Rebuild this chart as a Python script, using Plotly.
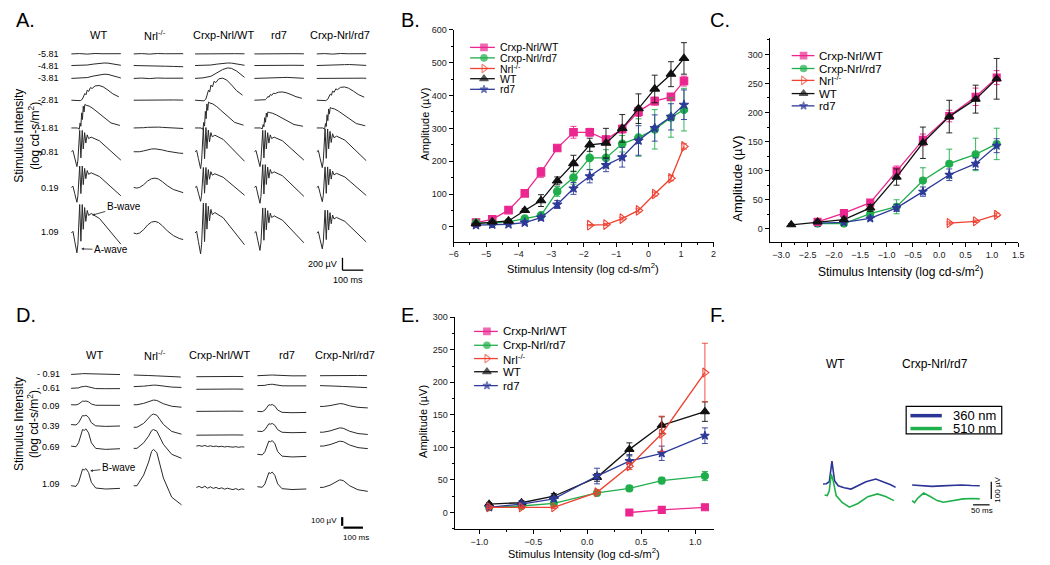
import plotly.graph_objects as go

W, H = 1050, 565          # browser window
OFF = 8                   # default page margin around the plot div
FW, FH = W - OFF, H - OFF # figure size so that it ends at the window edge
FONT = "Arial, Liberation Sans, sans-serif"

# ---------------- data: panel B ----------------
B_X = [-5.31, -4.81, -4.31, -3.81, -3.31, -2.81, -2.31, -1.81, -1.31, -0.81, -0.31, 0.19, 0.69, 1.09]
B_CWT = [13, 23, 51, 102, 166, 240, 288, 288, 266, 298, 351, 383, 396, 444]
B_CWT_ERR = [3, 4, 5, 6, 15, 8, 18, 12, 10, 12, 15, 12, 10, 15]
B_CRD7 = [12, 12, 15, 25, 35, 108, 150, 210, 210, 253, 272, 297, 333, 357]
B_CRD7_ERR = [3, 3, 4, 5, 6, 15, 20, 35, 25, 25, 57, 60, 60, 65]
B_NRL_X = [-1.81, -1.31, -0.81, -0.31, 0.19, 0.69, 1.09]
B_NRL = [5, 7, 25, 50, 100, 148, 245]
B_NRL_ERR = [2, 3, 4, 5, 6, 8, 8]
B_WT = [10, 15, 18, 50, 80, 140, 193, 250, 255, 300, 360, 420, 465, 513]
B_WT_ERR = [3, 4, 4, 6, 18, 12, 25, 20, 45, 42, 45, 42, 38, 48]
B_RD7 = [5, 7, 8, 13, 28, 68, 117, 154, 188, 212, 263, 301, 335, 372]
B_RD7_ERR = [3, 3, 3, 5, 8, 12, 18, 20, 20, 30, 45, 40, 40, 45]

# ---------------- data: panel C ----------------
C_WT_X = [-2.81, -2.31, -1.81, -1.31, -0.81, -0.31, 0.19, 0.69, 1.09]
C_WT = [7, 12, 16, 36, 89, 148, 193, 223, 258]
C_WT_ERR = [2, 3, 4, 6, 14, 27, 28, 24, 35]
C_X = [-2.31, -1.81, -1.31, -0.81, -0.31, 0.19, 0.69, 1.09]
C_CWT = [12, 27, 45, 100, 153, 194, 227, 260]
C_CWT_ERR = [3, 4, 5, 8, 10, 10, 15, 12]
C_CRD7 = [9, 9, 26, 38, 83, 112, 128, 146]
C_CRD7_ERR = [3, 3, 5, 12, 22, 25, 28, 27]
C_RD7 = [10, 11, 18, 36, 64, 93, 112, 143]
C_RD7_ERR = [3, 3, 4, 6, 8, 10, 10, 12]
C_NRL_X = [0.19, 0.69, 1.09]
C_NRL = [10, 13, 24]
C_NRL_ERR = [2, 2, 3]

# ---------------- data: panel E ----------------
E_X = [-0.91, -0.61, -0.31, 0.09, 0.39, 0.69, 1.09]
E_WT = [13, 15, 25, 54, 97, 134, 155]
E_WT_ERR = [2, 3, 4, 6, 10, 13, 15]
E_RD7 = [8, 13, 21, 56, 79, 91, 118]
E_RD7_ERR = [2, 3, 4, 12, 10, 11, 12]
E_CRD7 = [8, 10, 14, 30, 37, 49, 56]
E_CRD7_ERR = [2, 2, 3, 4, 4, 5, 7]
E_NRL = [8, 8, 8, 31, 71, 121, 215]
E_NRL_ERR = [2, 2, 2, 3, 5, 27, 45]
E_CWT_X = [0.39, 0.69, 1.09]
E_CWT = [0, 4, 8]
E_CWT_ERR = [1, 2, 2]

LEGEND_NAMES = ["Crxp-Nrl/WT", "Crxp-Nrl/rd7", "Nrl<sup>-/-</sup>", "WT", "rd7"]

FLAT_T = [0, 40, 80, 120, 160, 200, 250]
FLAT_V = [0, 4, -2, 5, 2, 6, 3]
DRIFT_V = [0, 0, -6, -10, -14, -18, -24]
NOISE_T = [0, 15, 30, 45, 60, 75, 90, 105, 120, 135, 150, 165, 180, 195, 210, 225, 240, 255]
NOISE_V = [0, 10, -5, 12, -8, 6, -10, 0, -14, -4, -18, -8, -16, -22, -12, -25, -15, -20]
AB_T = [0, 8, 17, 25, 28, 33, 38, 42, 48, 55, 60, 67, 73, 80, 87, 100, 142, 175, 207, 250]
AB_V = [0, 20, -98, -216, -236, -133, 138, 339, -98, 339, 44, 303, 138, 268, 209, 232, 173, 79, 0, -133]
B_T = [0, 30, 40, 44, 48, 52, 56, 60, 64, 68, 75, 90, 110, 140, 170, 200, 245]
B_V = [0, 0, -15, 60, 20, 180, 100, 260, 190, 280, 270, 260, 230, 170, 110, 60, 30]
BL_T = [0, 30, 45, 55, 62, 68, 74, 80, 88, 96, 105, 120, 140, 160, 185, 210, 240]
BL_V = [0, 0, -5, 10, 40, 80, 65, 120, 105, 150, 140, 170, 175, 160, 120, 75, 40]
SLOW_T = [0, 15, 30, 50, 70, 90, 108, 125, 145, 170, 200, 230, 250]
SLOW_V = [0, -10, 0, 40, 95, 130, 138, 125, 85, 25, -30, -65, -78]
LATE_T = [0, 40, 80, 110, 140, 165, 185, 210, 235, 250]
LATE_V = [0, 5, 20, 55, 85, 100, 95, 70, 30, 10]
PH_T = [0, 26, 40, 53, 61, 70, 79, 93, 108, 131, 184, 260]
PH_V = [0, -8, 40, 140, 200, 190, 208, 160, 40, -28, -40, -32]
NP_T = [0, 17, 53, 79, 95, 105, 123, 140, 158, 202, 254]
NP_V = [0, 0, 67, 148, 215, 228, 208, 130, 48, -72, -120]

TPL = {
    "flat": (FLAT_T, FLAT_V), "drift": (FLAT_T, DRIFT_V), "noise": (NOISE_T, NOISE_V),
    "ab": (AB_T, AB_V), "b": (B_T, B_V), "blate": (BL_T, BL_V), "slow": (SLOW_T, SLOW_V),
    "late": (LATE_T, LATE_V), "ph": (PH_T, PH_V), "np": (NP_T, NP_V),
}

A_COLS = ["WT", "Nrl<sup>-/-</sup>", "Crxp-Nrl/WT", "rd7", "Crxp-Nrl/rd7"]
A_ROWS = ["-5.81", "-4.81", "-3.81", "-2.81", "-1.81", "-0.81", "0.19", "1.09"]
# (shape, gain) per row, per column (WT, Nrl-/-, Crxp-Nrl/WT, rd7, Crxp-Nrl/rd7)
A_TRACES = [
    [("flat", 1), ("flat", 1), ("flat", 0.5), ("flat", 0.5), ("flat", 1)],
    [("late", 0.3), ("drift", 0.6), ("late", 0.3), ("flat", 0.5), ("late", 0.12)],
    [("late", 0.5), ("flat", 1), ("late", 1.25), ("late", 0.12), ("late", 0.1)],
    [("blate", 1.0), ("flat", 0.5), ("blate", 1.5), ("blate", 0.56), ("blate", 0.9)],
    [("b", 1.0), ("slow", 0.08), ("b", 1.1), ("b", 0.68), ("b", 0.87)],
    [("ab", 0.75), ("slow", 0.25), ("ab", 0.85), ("ab", 0.75), ("ab", 0.8)],
    [("ab", 0.75), ("slow", 0.8), ("ab", 0.7), ("ab", 0.8), ("ab", 0.72)],
    [("ab", 1.0), ("slow", 1.0), ("ab", 1.05), ("ab", 0.88), ("ab", 0.8)],
]

D_COLS = ["WT", "Nrl<sup>-/-</sup>", "Crxp-Nrl/WT", "rd7", "Crxp-Nrl/rd7"]
D_ROWS = ["- 0.91", "- 0.61", "0.09", "0.39", "0.69", "1.09"]
# per column: (shape, gain) for each row
D_TRACES = [
    [("ph", 0.05), ("ph", 0.12), ("ph", 0.22), ("ph", 0.55), ("ph", 1.0), ("ph", 1.0)],
    [("drift", 1), ("np", 0.08), ("np", 0.25), ("np", 0.7), ("np", 1.0), ("np", 1.93)],
    [("flat", 0.5), ("flat", 0.5), ("flat", 0.5), ("flat", 0.5), ("noise", 0.6), ("noise", 1.2)],
    [("ph", 0.04), ("ph", 0.08), ("ph", 0.4), ("ph", 0.45), ("ph", 0.8), ("ph", 0.85)],
    [("flat", 0.5), ("drift", 1), ("np", 0.15), ("np", 0.23), ("np", 0.26), ("np", 0.4)],
]

# panel F traces (ms, µV)
F_WT360_T = [0, 10, 19, 23, 27, 30, 35, 46, 64, 85, 106, 130, 160, 184, 205, 220]
F_WT360_V = [0, 2, 14, 78, 137, 90, 19, -10, -22, -30, -10, 14, 30, 14, -4, -20]
F_WT510_T = [0, 8, 14, 20, 26, 35, 53, 75, 101, 131, 160, 185, 210]
F_WT510_V = [0, -4, 25, 124, 84, -4, -45, -73, -51, -10, 6, -10, -34]
F_CR360_T = [0, 30, 60, 90, 120, 150, 180, 205]
F_CR360_V = [0, -5, -8, -5, -2, 0, -3, -4]
F_CR510_T = [0, 7, 19, 35, 55, 76, 95, 124, 155, 184, 205]
F_CR510_V = [0, -12, 18, 45, 24, 0, -10, 0, 10, 12, 10]

# ---------------- styles ----------------
STY = {
    "cwt": ("#EC268F", "square"),
    "crd7": ("#1FAE4B", "circle"),
    "nrl": ("#EF4130", "triangle-right-open"),
    "wt": ("#111111", "triangle-up"),
    "rd7": ("#2E3A98", "star"),
}
LEG_KEYS = ["cwt", "crd7", "nrl", "wt", "rd7"]
BLUE_F = "#2B3595"
GREEN_F = "#1DB04B"
TRACE_C = "#2a2a2a"

fig = go.Figure()


def dom_x(a, b):
    return [(a - OFF) / FW, (b - OFF) / FW]


def dom_y(top, bottom):
    return [1 - (bottom - OFF) / FH, 1 - (top - OFF) / FH]


def msize(sym, size):
    if sym == "star":
        return size - 0.5
    if sym.startswith("triangle"):
        return size + 1
    return size


def series(x, y, err, key, ax, size):
    color, sym = STY[key]
    fig.add_trace(go.Scatter(
        x=x, y=y, mode="lines+markers", xaxis="x" + ax, yaxis="y" + ax,
        line=dict(color=color, width=1.3),
        marker=dict(symbol=sym, size=msize(sym, size), color=color,
                    line=dict(color=color, width=1.1)),
        error_y=dict(type="data", array=err, color=color, thickness=0.9, width=3),
        showlegend=False, hoverinfo="skip"))


# panel B
series(B_X, B_CWT, B_CWT_ERR, "cwt", "", 7.5)
series(B_X, B_CRD7, B_CRD7_ERR, "crd7", "", 7.5)
series(B_NRL_X, B_NRL, B_NRL_ERR, "nrl", "", 7.5)
series(B_X, B_RD7, B_RD7_ERR, "rd7", "", 7.5)
series(B_X, B_WT, B_WT_ERR, "wt", "", 7.5)
# panel C
series(C_X, C_CRD7, C_CRD7_ERR, "crd7", "2", 7)
series(C_X, C_RD7, C_RD7_ERR, "rd7", "2", 7)
series(C_NRL_X, C_NRL, C_NRL_ERR, "nrl", "2", 7)
series(C_X, C_CWT, C_CWT_ERR, "cwt", "2", 7)
series(C_WT_X, C_WT, C_WT_ERR, "wt", "2", 7)
# panel E
series(E_CWT_X, E_CWT, E_CWT_ERR, "cwt", "3", 7)
series(E_X, E_CRD7, E_CRD7_ERR, "crd7", "3", 7)
series(E_X, E_WT, E_WT_ERR, "wt", "3", 7)
series(E_X, E_RD7, E_RD7_ERR, "rd7", "3", 7)
series(E_X, E_NRL, E_NRL_ERR, "nrl", "3", 7)


# ---------------- canvas axis (window pixel units) for waveforms / labels ----------------
def canvas_line(xs, ys, color, width):
    fig.add_trace(go.Scatter(x=xs, y=ys, mode="lines", xaxis="x4", yaxis="y4",
                             line=dict(color=color, width=width), showlegend=False,
                             hoverinfo="skip"))


def place(t, v, gain, x0, y0, ms_px, uv_px, color=TRACE_C, width=1.0):
    xs = [x0 + ti / ms_px for ti in t]
    ys = [y0 - gain * vi / uv_px for vi in v]
    canvas_line(xs, ys, color, width)


A_X0 = [67, 130, 192, 252, 315]
A_Y0 = [49.3, 61, 74, 96, 124, 148, 184, 230]
for r, row in enumerate(A_TRACES):
    for c, (shape, g) in enumerate(row):
        t, v = TPL[shape]
        place(t, v, g, A_X0[c], A_Y0[r], 5.0, 11.8)

D_X0 = [66.7, 130, 193.3, 255, 318.3]
D_Y0 = [
    [372.7, 386.7, 403.3, 423.3, 445, 485],
    [373.3, 385, 403.3, 426, 447.3, 485],
    [375, 387.7, 410, 434, 445, 486.7],
    [374, 384, 410, 430, 453.3, 486],
    [374, 384, 405, 431, 445, 486.7],
]
for c, col in enumerate(D_TRACES):
    for r, (shape, g) in enumerate(col):
        t, v = TPL[shape]
        place(t, v, g, D_X0[c], D_Y0[c][r], 5.26, 12.0)

place(F_WT360_T, F_WT360_V, 1, 826.7, 483.3, 3.0, 5.9, BLUE_F, 1.6)
place(F_WT510_T, F_WT510_V, 1, 828.3, 494.3, 3.0, 5.9, GREEN_F, 1.6)
place(F_CR360_T, F_CR360_V, 1, 916.7, 484.3, 3.0, 5.9, BLUE_F, 1.6)
place(F_CR510_T, F_CR510_V, 1, 916.7, 500.0, 3.0, 5.9, GREEN_F, 1.6)

annotations = []


def txt(x, y, s, size=11, anchor="center", angle=0, color="black"):
    annotations.append(dict(x=x, y=y, xref="x4", yref="y4", text=s, showarrow=False,
                            xanchor=anchor, yanchor="middle", textangle=angle,
                            font=dict(family=FONT, size=size, color=color)))


def legend(x_line0, x_line1, x_mark, x_text, ys, size, fsize):
    for key, name, y in zip(LEG_KEYS, LEGEND_NAMES, ys):
        color, sym = STY[key]
        fig.add_trace(go.Scatter(
            x=[x_line0, x_mark, x_line1], y=[y, y, y], mode="lines+markers",
            xaxis="x4", yaxis="y4", line=dict(color=color, width=1.3),
            marker=dict(symbol=sym, size=[0, msize(sym, size), 0], color=color,
                        line=dict(color=color, width=1.1)),
            showlegend=False, hoverinfo="skip"))
        txt(x_text, y, name, fsize, "left")


legend(470, 495, 484, 498, [42.7, 53.3, 64, 74.3, 85], 6.5, 10.5)
legend(795, 818, 807, 821, [51, 64, 76, 89.3, 101.7], 6.5, 11.5)
legend(474, 498, 487, 501, [329.3, 343.3, 356.7, 370, 384], 6.5, 11.5)

# panel letters
for s, x, y in [("A.", 9, 15), ("B.", 398, 15), ("C.", 710, 15),
                ("D.", 9, 313), ("E.", 398, 313), ("F.", 710, 313)]:
    txt(x, y, s, 20, "left")

for s, x in zip(A_COLS, [94, 152, 221, 277, 338]):
    txt(x, 30, s, 11)
for s, y in zip(A_ROWS, [49, 61, 74, 96, 124, 148, 185, 229]):
    txt(57, y, s, 9, "right")
txt(22, 132, "Stimulus Intensity<br>(log cd-s/m<sup>2</sup>)", 12, angle=-90)

for s, x in zip(D_COLS, [90, 151.7, 216.7, 285, 343.3]):
    txt(x, 352.7, s, 11)
for s, y in zip(D_ROWS, [372.7, 386.7, 405, 425, 445.7, 483.3]):
    txt(58, y, s, 9, "right")
txt(22, 423, "Stimulus Intensity<br>(log cd-s/m<sup>2</sup>)", 12, angle=-90)

XT = "Stimulus Intensity (log cd-s/m<sup>2</sup>)"
txt(584, 265, XT, 11)
txt(424, 120, "Amplitude (µV)", 11, angle=-90)
txt(905, 268, XT, 12)
txt(740, 175, "Amplitude (µV)", 13, angle=-90)
txt(585, 553, XT, 11)
txt(423, 420, "Amplitude (µV)", 11, angle=-90)

txt(839, 362, "WT", 12)
txt(940, 362, "Crxp-Nrl/rd7", 12)
txt(956, 413.8, "360 nm", 13, "left")
txt(956, 427.3, "510 nm", 13, "left")
txt(1003, 489.5, "100 µV", 8, angle=-90)
txt(987, 510, "50 ms", 8)

txt(337, 261, "200 µV", 9, "right")
txt(347, 277, "100 ms", 9)
txt(337, 520, "100 µV", 8, "right")
txt(355, 537, "100 ms", 8)

# B-wave / A-wave labels with arrows pointing at the waveform
for s, hx, hy, tx, ty in [("B-wave", 88, 212, 120, 203), ("A-wave", 77, 246, 107, 247),
                          ("B-wave", 86, 470, 115, 466.7)]:
    annotations.append(dict(x=hx, y=hy, xref="x4", yref="y4", ax=tx, ay=ty,
                            axref="x4", ayref="y4", text=s, showarrow=True,
                            arrowhead=2, arrowsize=0.6, arrowwidth=0.9, arrowcolor="#333",
                            font=dict(family=FONT, size=10, color="black")))

shapes = []


def seg(x0, y0, x1, y1, w=1.2, color="black"):
    shapes.append(dict(type="line", xref="x4", yref="y4", x0=x0, y0=y0, x1=x1, y1=y1,
                       line=dict(color=color, width=w)))


seg(341, 255, 341, 267.5, 1.3)
seg(341, 267.5, 362, 267.5, 1.3)
seg(340.7, 516.7, 340.7, 525.5, 2.2)
seg(342, 527.3, 361.7, 527.3, 2.2)
seg(996.7, 481, 996.7, 498.3, 1.2)
seg(978.3, 504.3, 995, 504.3, 1.2)
shapes.append(dict(type="rect", xref="x4", yref="y4", x0=910.7, y0=405, x1=1007.3, y1=432.7,
                   line=dict(color="black", width=1.2), fillcolor="rgba(0,0,0,0)"))
seg(915, 414.3, 946.7, 414.3, 3.5, BLUE_F)
seg(915, 427.3, 946.7, 427.3, 3.5, GREEN_F)


def axis_style(dom, rng, dtick, minor):
    return dict(domain=dom, range=rng, dtick=dtick, tick0=0, showline=True, linecolor="black",
                linewidth=1, ticks="outside", ticklen=4, tickcolor="black", tickwidth=1,
                showgrid=False, zeroline=False, fixedrange=True,
                tickfont=dict(family=FONT, size=9, color="#222"),
                minor=dict(ticks="outside", ticklen=2, dtick=minor, tickcolor="black",
                           showgrid=False))


fig.update_layout(
    width=FW, height=FH, margin=dict(l=0, r=0, t=0, b=0),
    paper_bgcolor="white", plot_bgcolor="rgba(0,0,0,0)", showlegend=False,
    xaxis=axis_style(dom_x(453.3, 716), [-6, 2], 1, 0.5),
    yaxis=axis_style(dom_y(25, 238.7), [-45, 600], 100, 50),
    xaxis2=dict(axis_style(dom_x(772.7, 1024), [-3.22, 1.5], 0.5, 0.25), anchor="y2",
                tickformat=".1f"),
    yaxis2=dict(axis_style(dom_y(33.3, 239.3), [-23, 328], 50, 25), anchor="x2"),
    xaxis3=dict(axis_style(dom_x(454.3, 716), [-1.23, 1.17], 0.5, 0.25), anchor="y3",
                tickformat=".1f"),
    yaxis3=dict(axis_style(dom_y(315, 528.7), [-25.4, 300], 50, 25), anchor="x3"),
    xaxis4=dict(domain=[0, 1], range=[OFF, W], visible=False, fixedrange=True, anchor="y4"),
    yaxis4=dict(domain=[0, 1], range=[H, OFF], visible=False, fixedrange=True, anchor="x4"),
    annotations=annotations, shapes=shapes,
)

fig.write_html("out.html")
